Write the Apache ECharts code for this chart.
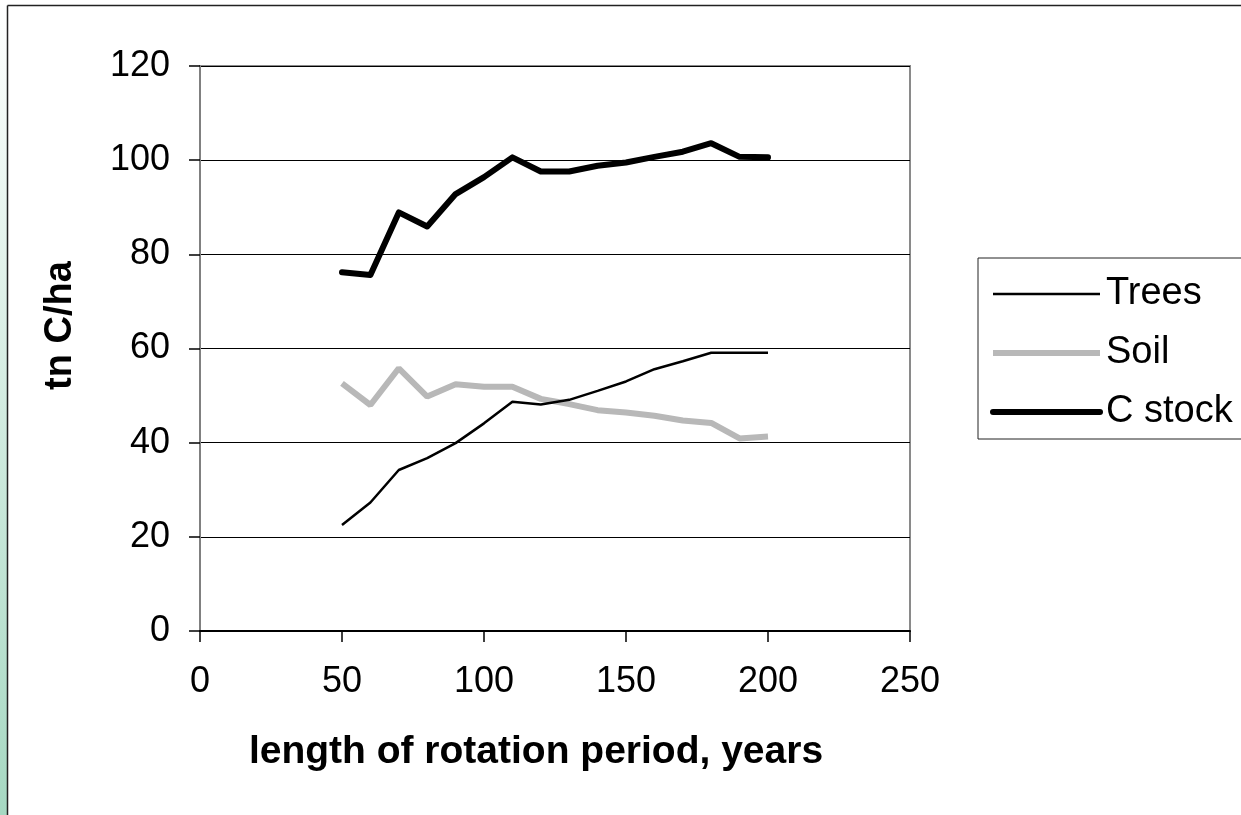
<!DOCTYPE html>
<html>
<head>
<meta charset="utf-8">
<script src="https://cdn.jsdelivr.net/npm/echarts@6/dist/echarts.min.js"></script>
<style>
html,body{margin:0;padding:0;background:#fff;}
#chart{width:1241px;height:815px;}
</style>
</head>
<body>
<div id="chart"></div>
<script>
var years = [50, 60, 70, 80, 90, 100, 110, 120, 130, 140, 150, 160, 170, 180, 190, 200];
var trees = [22.5, 27.3, 34.2, 36.7, 39.9, 44.1, 48.7, 48.1, 49.1, 51.0, 53.0, 55.6, 57.3, 59.1, 59.1, 59.1];
var soil = [52.6, 48.0, 55.8, 49.8, 52.4, 51.9, 51.9, 49.3, 48.2, 46.9, 46.4, 45.7, 44.7, 44.2, 40.9, 41.3];
var cstock = [76.2, 75.6, 88.9, 85.9, 92.8, 96.4, 100.6, 97.6, 97.6, 98.8, 99.5, 100.7, 101.8, 103.6, 100.7, 100.6];
var seriesNames = ['Trees', 'Soil', 'C stock'];
var xTitle = 'length of rotation period, years';
var yTitle = 'tn C/ha';

function pairs(vals) {
  return years.map(function (y, i) { return [y, vals[i]]; });
}

var font = 'Liberation Sans, Arial, sans-serif';
var lineStyles = [
  {color: '#000', width: 2.5},
  {color: '#b8b8b8', width: 6},
  {color: '#000', width: 6, cap: 'round', join: 'round'}
];
var chart = echarts.init(document.getElementById('chart'), null, {renderer: 'canvas'});
chart.setOption({
  animation: false,
  backgroundColor: '#ffffff',
  graphic: [
    {type: 'rect', left: 0, top: 0, shape: {x: 0, y: 0, width: 7, height: 815},
     style: {fill: new echarts.graphic.LinearGradient(0, 0, 0, 1, [
       {offset: 0, color: '#ffffff'}, {offset: 1, color: '#a6d8c2'}])}, silent: true, z: -1},
    {type: 'line', shape: {x1: 7.5, y1: 5.5, x2: 7.5, y2: 815}, style: {stroke: '#222', lineWidth: 1.5}, silent: true},
    {type: 'line', shape: {x1: 7.5, y1: 5.5, x2: 1241, y2: 5.5}, style: {stroke: '#222', lineWidth: 1.5}, silent: true}
  ],
  grid: {
    left: 200, top: 66, width: 710, height: 565,
    show: true, borderColor: '#8a8a8a', borderWidth: 2, backgroundColor: 'transparent'
  },
  legend: {
    orient: 'vertical',
    left: 978, top: 258,
    padding: [17, 200, 8, 12],
    itemGap: 21,
    itemWidth: 107, itemHeight: 38,
    borderColor: '#222', borderWidth: 1,
    itemStyle: {color: 'rgba(0,0,0,0)', borderWidth: 0, opacity: 0},
    textStyle: {fontFamily: font, fontSize: 38, lineHeight: 38, color: '#000', padding: [0, 0, 0, 1]},
    data: seriesNames.map(function (n, i) {
      return {name: n, lineStyle: lineStyles[i], itemStyle: {color: 'rgba(0,0,0,0)', opacity: 0}};
    })
  },
  xAxis: {
    type: 'value', min: 0, max: 250, interval: 50,
    name: xTitle, nameLocation: 'middle', nameGap: 102,
    nameTextStyle: {fontFamily: font, fontSize: 39, fontWeight: 'bold', color: '#000', padding: [0, 38, 0, 0]},
    axisLine: {show: true, onZero: false, lineStyle: {color: '#000', width: 2}},
    axisTick: {show: true, inside: false, length: 11, lineStyle: {color: '#000', width: 1.5}},
    axisLabel: {fontFamily: font, fontSize: 36, color: '#000', margin: 33},
    splitLine: {show: false}
  },
  yAxis: {
    type: 'value', min: 0, max: 120, interval: 20,
    name: yTitle, nameLocation: 'middle', nameGap: 120,
    nameTextStyle: {fontFamily: font, fontSize: 38, fontWeight: 'bold', color: '#000', padding: [0, 0, 0, 46]},
    axisLine: {show: true, lineStyle: {color: '#808080', width: 2}},
    axisTick: {show: true, inside: false, length: 11, lineStyle: {color: '#000', width: 1.5}},
    axisLabel: {fontFamily: font, fontSize: 36, color: '#000', margin: 30},
    splitLine: {show: true, lineStyle: {color: '#000', width: 1}}
  },
  series: [
    {name: seriesNames[0], type: 'line', data: pairs(trees), symbol: 'none', showSymbol: false,
     lineStyle: lineStyles[0], itemStyle: {color: '#000'}, z: 4},
    {name: seriesNames[1], type: 'line', data: pairs(soil), symbol: 'none', showSymbol: false,
     lineStyle: lineStyles[1], itemStyle: {color: '#b8b8b8'}, z: 3},
    {name: seriesNames[2], type: 'line', data: pairs(cstock), symbol: 'none', showSymbol: false,
     lineStyle: lineStyles[2], itemStyle: {color: '#000'}, z: 5}
  ]
});
</script>
</body>
</html>
